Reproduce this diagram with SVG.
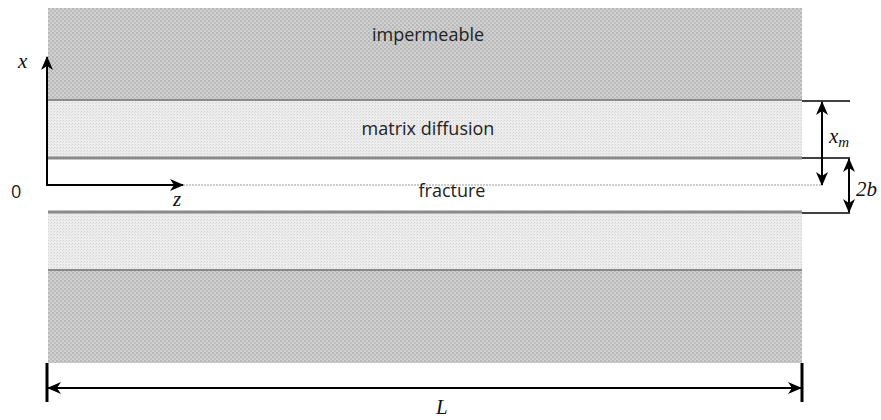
<svg xmlns="http://www.w3.org/2000/svg" width="881" height="420" viewBox="0 0 881 420">
<defs>
<pattern id="imp" width="4" height="4" patternUnits="userSpaceOnUse">
<rect width="4" height="4" fill="#d0d0d0"/>
<rect x="0" y="0" width="2" height="2" fill="#b8b8b8"/>
<rect x="2" y="2" width="2" height="2" fill="#bcbcbc"/>
</pattern>
<pattern id="mat" width="3" height="3" patternUnits="userSpaceOnUse">
<rect width="3" height="3" fill="#ededed"/>
<rect x="0" y="0" width="1" height="1" fill="#d2d2d2"/>
<rect x="2" y="1" width="1" height="1" fill="#dcdcdc"/>
</pattern>
<marker id="ah" viewBox="0 0 14 12" refX="13" refY="6" markerWidth="14" markerHeight="12" markerUnits="userSpaceOnUse" orient="auto-start-reverse">
<path d="M0,0 L14,6 L0,12 L4,6 Z" fill="#000"/>
</marker>
<style>
.lbl{font-family:"Open Sans","Noto Sans",sans-serif;font-size:18px;fill:#222}
.math{font-family:"Liberation Serif",serif;font-style:italic;font-size:21px;fill:#111}
.band{stroke:#8a8a8a}
.dim{stroke:#000;stroke-width:2;fill:none}
</style>
</defs>
<g id="impermeable-top">
<rect x="48" y="8" width="754" height="92" fill="url(#imp)"/>
<text class="lbl" x="428" y="41" text-anchor="middle">impermeable</text>
</g>
<g id="matrix-top">
<rect x="48" y="100" width="754" height="57" fill="url(#mat)"/>
<text class="lbl" x="428" y="135" text-anchor="middle">matrix diffusion</text>
</g>
<g id="fracture">
<rect x="48" y="159" width="754" height="52" fill="#fff"/>
<line x1="183" y1="185" x2="822" y2="185" stroke="#999" stroke-width="1" stroke-dasharray="2,1"/>
<text class="lbl" x="452" y="197" text-anchor="middle">fracture</text>
</g>
<g id="matrix-bottom">
<rect x="48" y="213" width="754" height="57" fill="url(#mat)"/>
</g>
<g id="impermeable-bottom">
<rect x="48" y="270" width="754" height="93" fill="url(#imp)"/>
</g>
<g id="boundaries">
<line class="band" x1="48" y1="100" x2="802" y2="100" stroke-width="2"/>
<line class="band" x1="48" y1="158" x2="802" y2="158" stroke-width="3"/>
<line class="band" x1="48" y1="212" x2="802" y2="212" stroke-width="3"/>
<line class="band" x1="48" y1="270" x2="802" y2="270" stroke-width="2"/>
</g>
<g id="connectors">
<polyline class="dim" points="47,57 47,185 183,185" marker-start="url(#ah)" marker-end="url(#ah)"/>
<line x1="802" y1="101" x2="850" y2="101" stroke="#000" stroke-width="1.5"/>
<line x1="802" y1="158" x2="850" y2="158" stroke="#000" stroke-width="1.5"/>
<line x1="802" y1="213" x2="850" y2="213" stroke="#000" stroke-width="1.5"/>
<line class="dim" x1="822" y1="102" x2="822" y2="185" marker-start="url(#ah)" marker-end="url(#ah)"/>
<line class="dim" x1="849" y1="159" x2="849" y2="212" marker-start="url(#ah)" marker-end="url(#ah)"/>
<line class="dim" x1="48" y1="388" x2="801" y2="388" marker-start="url(#ah)" marker-end="url(#ah)"/>
<line x1="47" y1="363" x2="47" y2="402" stroke="#000" stroke-width="3"/>
<line x1="802" y1="363" x2="802" y2="402" stroke="#000" stroke-width="3"/>
</g>
<g id="labels">
<text class="math" x="18" y="68">x</text>
<text class="lbl" x="11" y="198" font-size="19">0</text>
<text class="math" x="173" y="206">z</text>
<text class="math" x="829" y="143">x<tspan font-size="15" dy="4">m</tspan></text>
<text class="math" x="856" y="196">2b</text>
<text class="math" x="436" y="414">L</text>
</g>
</svg>
